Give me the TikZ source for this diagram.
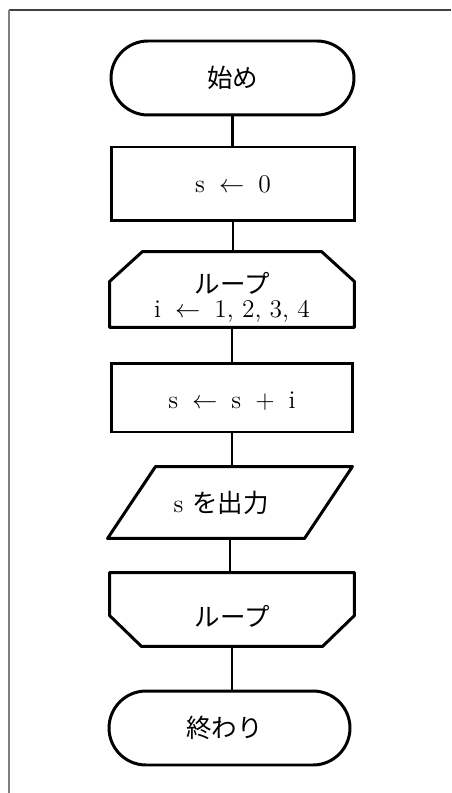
\documentclass[tikz,border=0pt]{standalone}
\usepackage{fontspec}
\newfontfamily\jp{Noto Sans CJK JP}
\usetikzlibrary{calc}
\newcommand{\wsp}{\hspace{0.55em}}

\begin{document}
\begin{tikzpicture}[x=0.02cm,y=-0.02cm,
  box/.style={draw,line width=1.7pt,minimum width=4.84cm,minimum height=1.48cm,inner sep=0pt,font=\fontsize{14.5}{15}\selectfont,align=center},
  term/.style={box,rounded corners=0.74cm},
  plain/.style={box,draw=none},
  flow/.style={line width=1.7pt,line join=round}]
\useasboundingbox (0,0) rectangle (451,793);
\draw[black!75,line width=0.9pt] (9,10)--(451,10);\draw[black!50,line width=1.1pt] (9,10)--(9,793);
% steps of the flow
\node[term,minimum width=4.86cm] (start) at (232.5,78) {\jp 始め};
\node[box,minimum width=4.88cm] (init) at (233,184) {s\wsp$\leftarrow$\wsp0};
\node[plain,minimum height=1.46cm] (loopA) at (232,289.5) {\rule{0pt}{21pt}{\jp ループ}\\[-1pt]i\wsp$\leftarrow$\wsp 1, 2, 3, 4};
\draw[flow] (loopA.south west)--($(loopA.north west)+(0,30)$)--($(loopA.north west)+(33,0)$)--($(loopA.north east)+(-33,0)$)--($(loopA.north east)+(0,30)$)--(loopA.south east)--cycle;
\node[box,minimum height=1.38cm] (body) at (232,397.5) {\rule{0pt}{14pt}s\wsp$\leftarrow$\wsp s\wsp+\wsp i};
\node[plain,minimum height=1.38cm] (out) at (230,502.5) {s\hspace{0.35em}{\jp を出力}\kern0.35cm};
\draw[flow] ($(out.north west)+(48,0)$)--(out.north east)--($(out.south east)+(-48,0)$)--(out.south west)--cycle;
\node[plain,minimum height=1.42cm] (loopB) at (232,609.5) {\rule{0pt}{20pt}{\jp ループ}};
\draw[flow] (loopB.north west)--($(loopB.south west)+(0,-31)$)--($(loopB.south west)+(32,0)$)--($(loopB.south east)+(-32,0)$)--($(loopB.south east)+(0,-31)$)--(loopB.north east)--cycle;
\node[term,minimum width=4.82cm] (stop) at (229.5,728) {\jp 終わり\kern0.2cm};
% connectors
\foreach \a/\b in {start/init,init/loopA,loopA/body,body/out,out/loopB,loopB/stop}
  \draw[flow] (\a.south)--(\a.south|-\b.north);
\end{tikzpicture}
\end{document}
